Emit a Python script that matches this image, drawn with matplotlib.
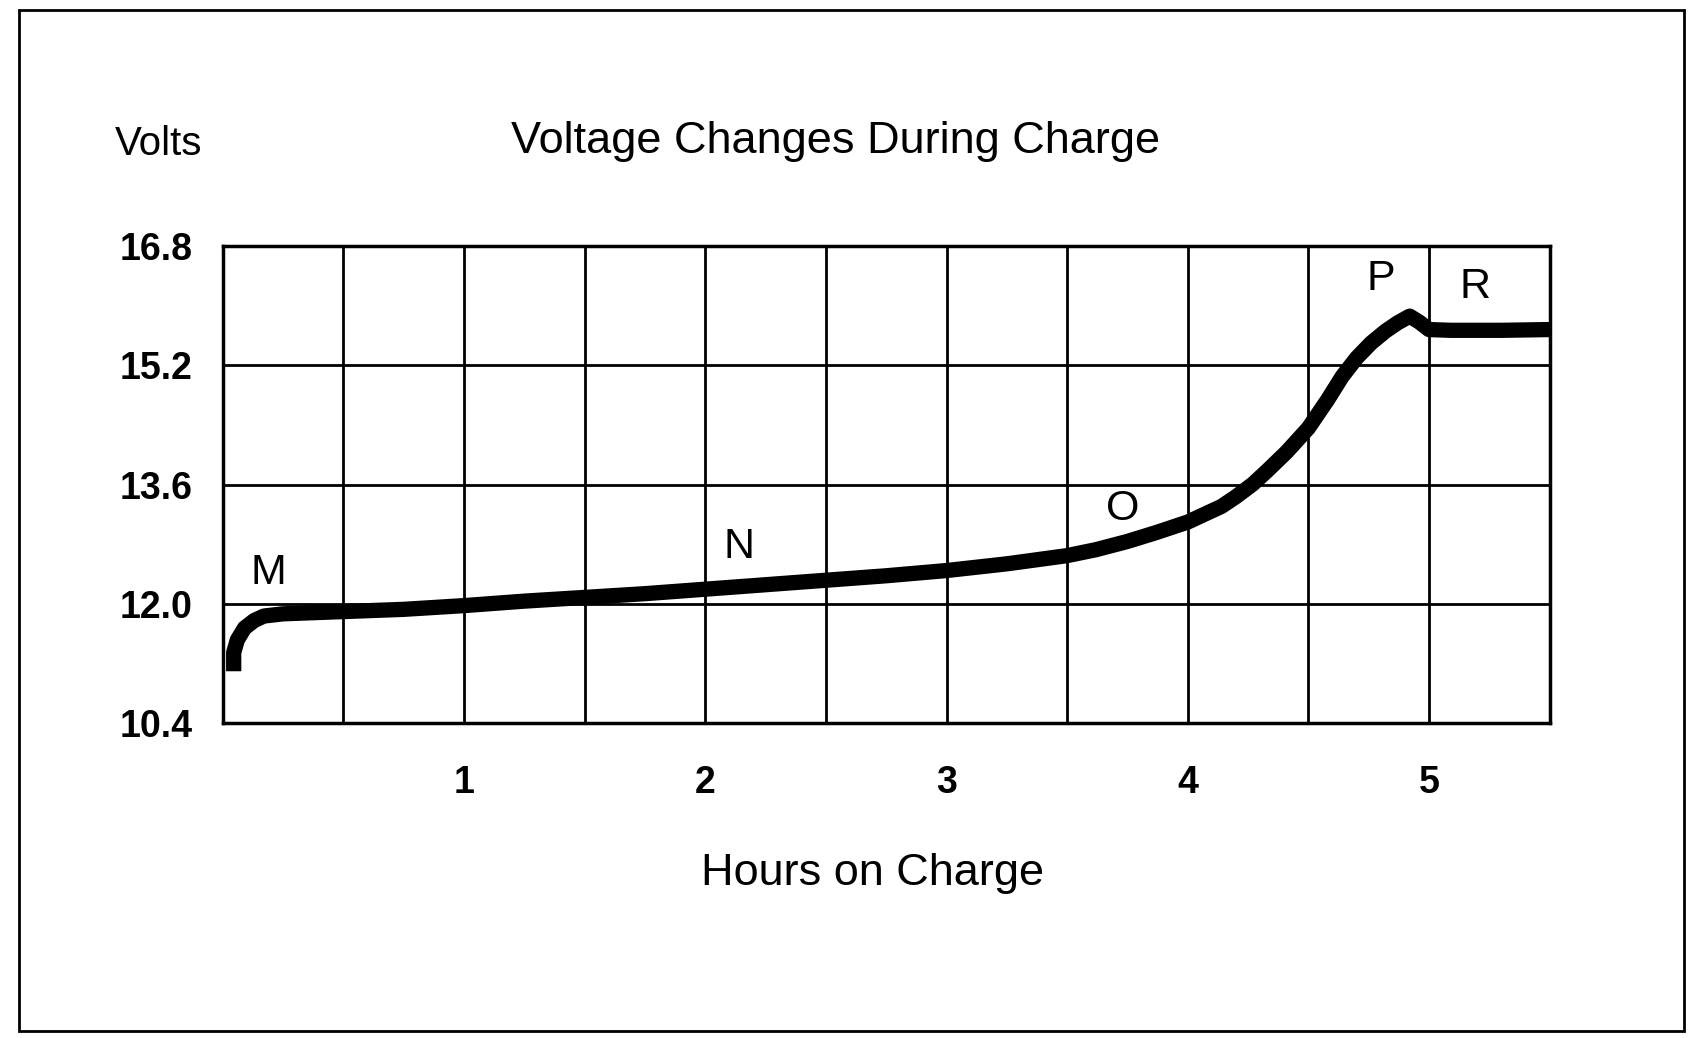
import matplotlib
matplotlib.use("Agg")
import matplotlib.pyplot as plt
import numpy as np
from matplotlib.patches import Rectangle

plt.rcParams['font.family'] = ['Liberation Sans', 'DejaVu Sans']

# curve (hours, volts)
hours = [0.045, 0.045, 0.06, 0.09, 0.13, 0.17, 0.25, 0.5, 0.75, 1.0, 1.25,
         1.5, 1.75, 2.0, 2.25, 2.5, 2.75, 3.0, 3.25, 3.5, 3.62, 3.75, 3.87,
         4.0, 4.14, 4.2, 4.27, 4.33, 4.41, 4.5, 4.58, 4.64, 4.7, 4.76, 4.82,
         4.87, 4.92, 4.96, 5.0, 5.09, 5.3, 5.5]
volts = [11.1, 11.35, 11.52, 11.68, 11.78, 11.84, 11.87, 11.9, 11.93, 11.98,
         12.04, 12.09, 12.14, 12.2, 12.26, 12.32, 12.38, 12.45, 12.54, 12.65,
         12.73, 12.84, 12.96, 13.1, 13.31, 13.44, 13.61, 13.79, 14.04, 14.36,
         14.74, 15.05, 15.3, 15.5, 15.66, 15.77, 15.86, 15.78, 15.68, 15.67,
         15.67, 15.68]

y_ticks = [10.4, 12.0, 13.6, 15.2, 16.8]
x_ticks = [1, 2, 3, 4, 5]

# point labels on the curve
point_names = ["M", "N", "O", "P", "R"]
point_x = [0.19, 2.14, 3.73, 4.80, 5.19]
point_y = [12.42, 12.76, 13.27, 16.36, 16.25]

fig = plt.figure(figsize=(17.01, 10.38), dpi=100)
fig.patches.append(Rectangle((0.011, 0.007), 0.979, 0.983, transform=fig.transFigure,
                             fill=False, edgecolor="black", linewidth=2))

ax = fig.add_axes([0.131, 0.303, 0.78, 0.46])
ax.plot(hours, volts, color="black", linewidth=11, solid_capstyle="butt",
        solid_joinstyle="round", zorder=3)

ax.set_xlim(0, 5.5)
ax.set_ylim(10.4, 16.8)
grid_x = np.arange(0, 5.51, 0.5)
ax.set_xticks(grid_x)
ax.set_xticklabels([str(int(v)) if v in x_ticks else "" for v in grid_x],
                   fontsize=27, fontweight="bold")
ax.set_yticks(y_ticks)
ax.set_yticklabels([f"{v:.1f}" for v in y_ticks], fontsize=27, fontweight="bold")
ax.tick_params(axis="both", length=0)
ax.tick_params(axis="x", pad=30)
ax.tick_params(axis="y", pad=22)
ax.grid(True, color="black", linewidth=2)
for s in ax.spines.values():
    s.set_linewidth(2.5)

for name, px, py in zip(point_names, point_x, point_y):
    ax.text(px, py, name, fontsize=31, ha="center", va="center", fontweight="light")

fig.text(0.491, 0.864, "Voltage Changes During Charge", fontsize=32.5,
         ha="center", va="center")
fig.text(0.093, 0.861, "Volts", fontsize=29, ha="center", va="center")
fig.text(0.513, 0.158, "Hours on Charge", fontsize=32.5, ha="center", va="center")

fig.savefig("out.png", dpi=100)
